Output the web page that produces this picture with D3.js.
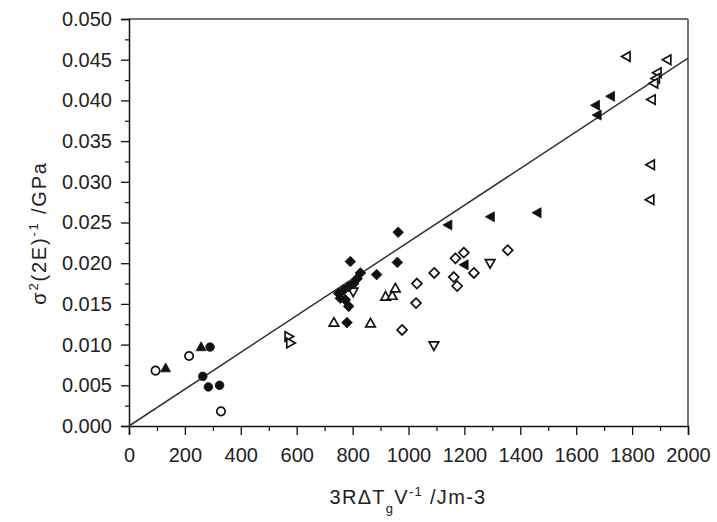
<!DOCTYPE html>
<html><head><meta charset="utf-8">
<script src="https://cdn.jsdelivr.net/npm/d3@7"></script>
<style>body{margin:0;background:#fff}svg text{font-family:"Liberation Sans",Arial,sans-serif;fill:#222}</style>
</head><body><svg id="c" width="717" height="522"></svg>
<script>
// ---- data (x: 3RΔTgV^-1 /Jm-3, y: σ²(2E)^-1 /GPa) ----
const filledCircles = [[264,0.0061],[284,0.0048],[324,0.0050],[290,0.0097]];
const openCircles = [[95,0.0068],[215,0.0086],[329,0.0018]];
const filledTrianglesUp = [[131,0.0071],[258,0.0097]];
const openTrianglesRight = [[571,0.0110],[577,0.0102]];
const openTrianglesUp = [[733,0.0127],[864,0.0126],[918,0.0159],[942,0.0160],[953,0.0169]];
const filledDiamonds = [[963,0.0238],[792,0.0202],[960,0.0201],[886,0.0186],[828,0.0188],[816,0.0181],[804,0.0175],[786,0.0171],[768,0.0167],[750,0.0163],[756,0.0157],[774,0.0155],[786,0.0147],[780,0.0127]];
const openTrianglesDown = [[802,0.0165],[1091,0.0099],[1292,0.0200]];
const openDiamonds = [[977,0.0118],[1030,0.0175],[1027,0.0151],[1092,0.0188],[1168,0.0206],[1198,0.0213],[1162,0.0183],[1174,0.0172],[1234,0.0188],[1355,0.0216]];
const filledTrianglesLeft = [[1142,0.0247],[1200,0.0198],[1294,0.0257],[1461,0.0262],[1724,0.0405],[1670,0.0394],[1676,0.0382]];
const openTrianglesLeft = [[1780,0.0454],[1926,0.0450],[1891,0.0434],[1885,0.0427],[1879,0.0421],[1870,0.0401],[1867,0.0321],[1865,0.0278]];
const fitLine = [[0,0],[2000,0.0452]];
const xTickValues = [0,200,400,600,800,1000,1200,1400,1600,1800,2000];
const xMinorTicks = [100,300,500,700,900,1100,1300,1500,1700,1900];
const yTickValues = [0,0.005,0.010,0.015,0.020,0.025,0.030,0.035,0.040,0.045,0.050];
const yMinorTicks = [0.0025,0.0075,0.0125,0.0175,0.0225,0.0275,0.0325,0.0375,0.0425,0.0475];

const svg = d3.select("#c");
const x = d3.scaleLinear().domain([0,2000]).range([129,688]);
const y = d3.scaleLinear().domain([0,0.05]).range([426,19]);

// frame (top, right)
svg.append("line").attr("x1",129).attr("x2",688).attr("y1",19).attr("y2",19).attr("stroke","#444").attr("stroke-width",1.5);
svg.append("line").attr("x1",688).attr("x2",688).attr("y1",19).attr("y2",426).attr("stroke","#444").attr("stroke-width",1.5);

function styleAxis(g){
  g.select(".domain").attr("stroke","#111").attr("stroke-width",1.5);
  g.selectAll(".tick line").attr("stroke","#111").attr("stroke-width",1.3);
  g.selectAll("text").style("font-size","20px").attr("fill","#222");
}
const gx = svg.append("g").attr("transform","translate(0,426)")
  .call(d3.axisBottom(x).tickValues(xTickValues).tickSize(9).tickPadding(13).tickFormat(d3.format("d")));
styleAxis(gx);
const gxm = svg.append("g").attr("transform","translate(0,426)")
  .call(d3.axisBottom(x).tickValues(xMinorTicks).tickSize(5).tickFormat(""));
gxm.select(".domain").remove(); gxm.selectAll(".tick line").attr("stroke","#111").attr("stroke-width",1.2);

const gy = svg.append("g").attr("transform","translate(129,0)")
  .call(d3.axisLeft(y).tickValues(yTickValues).tickSize(8).tickPadding(9).tickFormat(d3.format(".3f")));
styleAxis(gy);
const gym = svg.append("g").attr("transform","translate(129,0)")
  .call(d3.axisLeft(y).tickValues(yMinorTicks).tickSize(4).tickFormat(""));
gym.select(".domain").remove(); gym.selectAll(".tick line").attr("stroke","#111").attr("stroke-width",1.2);

// fit line
svg.append("path").datum(fitLine)
  .attr("d", d3.line().x(d=>x(d[0])).y(d=>y(d[1])))
  .attr("stroke","#333").attr("stroke-width",1.5).attr("fill","none");

// marker shapes
function shape(type, s){
  switch(type){
    case "circle": return d3.symbol(d3.symbolCircle, s*s*Math.PI)();
    case "diamond": return `M0,${-s}L${s},0L0,${s}L${-s},0Z`;
    case "up": return `M0,${-s}L${s*0.95},${s*0.7}L${-s*0.95},${s*0.7}Z`;
    case "down": return `M0,${s}L${s*0.95},${-s*0.7}L${-s*0.95},${-s*0.7}Z`;
    case "left": return `M${-s},0L${s*0.7},${-s*0.95}L${s*0.7},${s*0.95}Z`;
    case "right": return `M${s},0L${-s*0.7},${-s*0.95}L${-s*0.7},${s*0.95}Z`;
  }
}
function plot(data, type, filled, s){
  svg.append("g").selectAll("path").data(data).join("path")
    .attr("transform", d=>`translate(${x(d[0])},${y(d[1])})`)
    .attr("d", shape(type, s))
    .attr("fill", filled ? "#111" : "#fff")
    .attr("stroke", "#111").attr("stroke-width", filled ? 0.8 : 1.7);
}
plot(openCircles,"circle",false,4.2);
plot(openTrianglesRight,"right",false,5);
plot(openTrianglesUp,"up",false,5);
plot(openDiamonds,"diamond",false,5);
plot(openTrianglesDown,"down",false,5);
plot(openTrianglesLeft,"left",false,5);
plot(filledCircles,"circle",true,4.3);
plot(filledTrianglesUp,"up",true,5.2);
plot(filledDiamonds,"diamond",true,5.3);
plot(filledTrianglesLeft,"left",true,5.3);

// axis titles
const xt = svg.append("text").attr("x",408).attr("y",504).attr("text-anchor","middle")
  .style("font-size","20px").style("letter-spacing","1.3px");
xt.append("tspan").text("3RΔT");
xt.append("tspan").attr("dy",9).style("font-size","13px").text("g");
xt.append("tspan").attr("dy",-9).text("V");
xt.append("tspan").attr("dy",-8).style("font-size","13px").text("-1");
xt.append("tspan").attr("dy",8).text(" /Jm-3");

const yt = svg.append("text").attr("transform","translate(46,233) rotate(-90)").attr("text-anchor","middle")
  .style("font-size","20px").style("letter-spacing","1.8px");
yt.append("tspan").text("σ");
yt.append("tspan").attr("dy",-8).style("font-size","13px").text("2");
yt.append("tspan").attr("dy",8).text("(2E)");
yt.append("tspan").attr("dy",-8).style("font-size","13px").text("-1");
yt.append("tspan").attr("dy",8).text(" /GPa");
</script></body></html>
